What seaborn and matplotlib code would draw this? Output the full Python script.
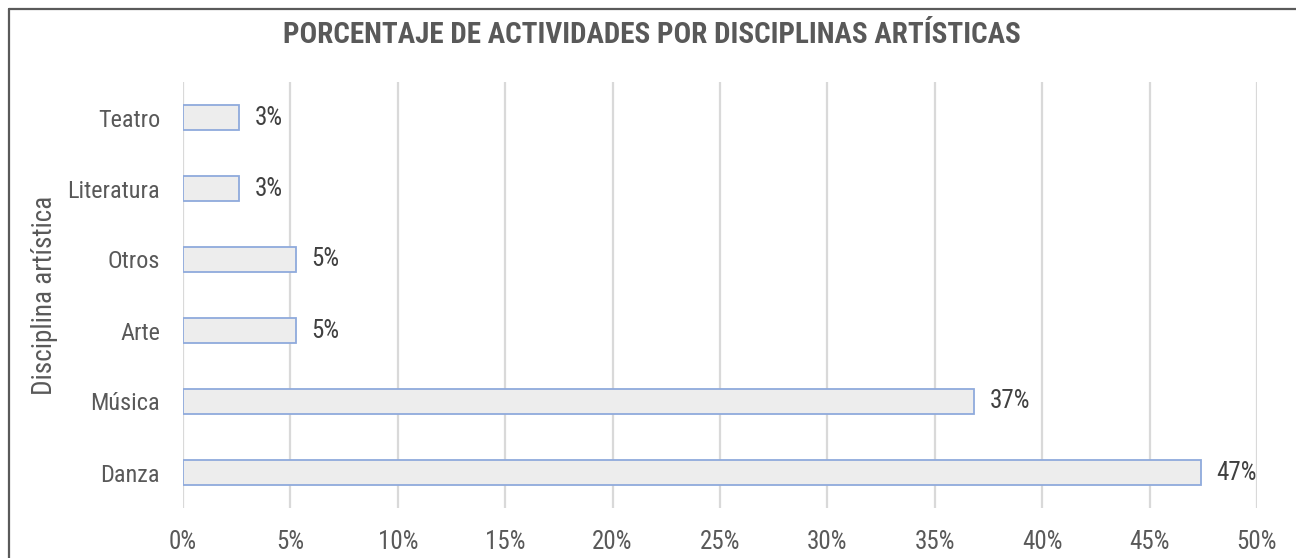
import matplotlib
matplotlib.use("Agg")
import matplotlib.pyplot as plt
from matplotlib import font_manager as fm
from matplotlib.lines import Line2D
from matplotlib.ticker import FuncFormatter
import seaborn as sns
import pandas as pd

# Datos: porcentaje de actividades por disciplina (38 actividades en total)
disciplinas = ["Teatro", "Literatura", "Otros", "Arte", "Música", "Danza"]
porcentajes = [2.63, 2.63, 5.26, 5.26, 36.84, 47.37]
etiquetas = ["3%", "3%", "5%", "5%", "37%", "47%"]
ticks_x = [0, 5, 10, 15, 20, 25, 30, 35, 40, 45, 50]

titulo = "PORCENTAJE DE ACTIVIDADES POR DISCIPLINAS ARTÍSTICAS"
etiqueta_y = "Disciplina artística"

sns.set_style("white")

# Tipografías estrechas, por orden de preferencia
fuentes = fm.fontManager.ttflist


def _peso(f):
    w = f.weight
    if isinstance(w, str):
        return {"bold": 700, "normal": 400, "regular": 400}.get(w.lower(), 400)
    return int(w)


def _elegir(preferidas, peso):
    disponibles = {(f.name, _peso(f)) for f in fuentes}
    for nombre in preferidas:
        if (nombre, peso) in disponibles:
            return nombre
    return "DejaVu Sans"


ESTRECHAS = ["Liberation Sans Narrow", "Arial Narrow", "Roboto Condensed",
             "Archivo Narrow", "PT Sans Narrow", "Open Sans Condensed",
             "Asap Condensed", "Barlow Semi Condensed"]
fam_texto = _elegir(ESTRECHAS, 400)
fam_titulo = _elegir(ESTRECHAS, 700)

plt.rcParams["font.family"] = [fam_texto, "DejaVu Sans"]

GRIS = "#595959"
GRIS_OSCURO = "#404040"
TAM = 18

df = pd.DataFrame({"disciplina": disciplinas, "porcentaje": porcentajes})

fig = plt.figure(figsize=(12.96, 5.58), dpi=100)
ax = fig.add_axes([183 / 1296, 1 - 508 / 558, (1257 - 183) / 1296, (508 - 82) / 558])

sns.barplot(
    data=df, x="porcentaje", y="disciplina", order=disciplinas, orient="h",
    color="#EDEDED", edgecolor="#8FAADC", linewidth=1.3, width=0.36,
    saturation=1, ax=ax,
)

ax.set_xlim(0, 50)
ax.set_ylim(len(disciplinas) - 0.5, -0.5)
ax.set_xticks(ticks_x)
ax.xaxis.set_major_formatter(FuncFormatter(lambda v, _: f"{v:.0f}%"))
ax.grid(axis="x", color="#D9D9D9", linewidth=1.6)
ax.set_axisbelow(True)
for s in ax.spines.values():
    s.set_visible(False)

ax.tick_params(axis="both", length=0, labelsize=TAM, colors=GRIS)
ax.tick_params(axis="x", pad=16)
ax.tick_params(axis="y", labelsize=TAM - 0.5, pad=16.5)
ax.set_xlabel("")
ax.set_ylabel("")

ax.bar_label(ax.containers[0], labels=etiquetas, padding=11,
             fontsize=TAM, color=GRIS_OSCURO)

fig.text(45 / 1296, 1 - 295 / 558, etiqueta_y, rotation=90, ha="center", va="center",
         fontsize=TAM + 1.5, color=GRIS)

fig.text(0.5 * (283 + 1020) / 1296, 1 - 35 / 558, titulo, ha="center", va="center",
         fontsize=21, fontweight="bold", color=GRIS,
         family=[fam_titulo, "DejaVu Sans"])

# Marco del gráfico (borde superior e izquierdo)
fig.add_artist(Line2D([9 / 1296, 1.0], [1 - 9 / 558, 1 - 9 / 558],
                      transform=fig.transFigure, color="#5A5A5A", linewidth=1.6))
fig.add_artist(Line2D([9 / 1296, 9 / 1296], [0.0, 1 - 9 / 558],
                      transform=fig.transFigure, color="#5A5A5A", linewidth=1.6))

fig.savefig("out.png", dpi=100)
